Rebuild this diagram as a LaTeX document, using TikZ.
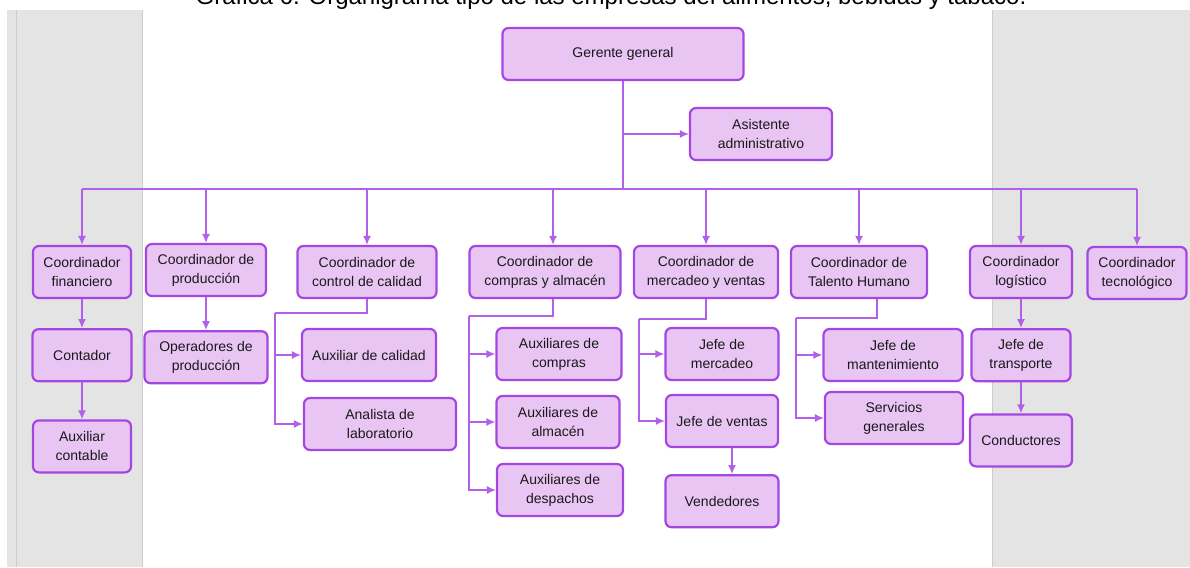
\documentclass[tikz,border=0pt]{standalone}
\usepackage{fontspec}
\setmainfont{Liberation Sans}
\usetikzlibrary{positioning,arrows.meta}

\definecolor{boxfill}{HTML}{E9C5F4}
\definecolor{boxline}{HTML}{A447E2}
\definecolor{linkline}{HTML}{B160EA}
\definecolor{bandgrey}{HTML}{E4E4E4}
\definecolor{bandedge}{HTML}{CDCDCD}

\begin{document}
\begin{tikzpicture}[
  x=1pt,
  y=-1pt,
  node distance=30pt,
  box/.style={
    rectangle,
    rounded corners=6pt,
    draw=boxline,
    line width=2.2pt,
    fill=boxfill,
    text=black!90,
    minimum height=52pt,
    inner sep=2pt,
    align=center,
    font=\fontsize{14}{19}\selectfont
  },
  link/.style={
    draw=linkline,
    line width=1.4pt
  },
  arrow/.style={
    link,
    -{Latex[length=9pt,width=8pt]}
  }
]
\useasboundingbox (0,0) rectangle (1190,567);

% grey side bands
\fill[bandgrey] (7,10) rectangle (142,567);
\draw[bandedge] (16,10) -- (16,567);
\draw[bandedge] (142,10) -- (142,567);
\fill[bandgrey] (992,10) rectangle (1190,567);
\draw[bandedge] (992,10) -- (992,567);

\node[anchor=base, font=\fontsize{24}{24}\selectfont] (titulo) at (611,5)
  {Gráfica 6. Organigrama tipo de las empresas del alimentos, bebidas y tabaco.};

% top
\node[box, minimum width=241pt] (gerente) at (623,54) {Gerente general};
\node[box, minimum width=142pt] (asistente) at (761,134) {Asistente\\administrativo};

% coordinators
\node[box, minimum width=98pt] (cfin) at (82,272) {Coordinador\\financiero};
\node[box, minimum width=120pt] (cprod) at (206,270) {Coordinador de\\producción};
\node[box, minimum width=139pt] (ccal) at (367,272) {Coordinador de\\control de calidad};
\node[box, minimum width=151pt] (ccomp) at (545,272) {Coordinador de\\compras y almacén};
\node[box, minimum width=144pt] (cmerc) at (706,272) {Coordinador de\\mercadeo y ventas};
\node[box, minimum width=136pt] (cth) at (859,272) {Coordinador de\\Talento Humano};
\node[box, minimum width=102pt] (clog) at (1021,272) {Coordinador\\logístico};
\node[box, minimum width=99pt] (ctec) at (1137,273) {Coordinador\\tecnológico};

% staff
\node[box, minimum width=99pt, below=29pt of cfin] (contador) {Contador};
\node[box, minimum width=98pt, below=37pt of contador] (auxcont) {Auxiliar\\contable};
\node[box, minimum width=123pt, below=33pt of cprod] (operadores) {Operadores de\\producción};
\node[box, minimum width=134pt] (auxcal) at (369,355) {Auxiliar de calidad};
\node[box, minimum width=152pt] (analista) at (380,424) {Analista de\\laboratorio};
\node[box, minimum width=125pt] (auxcomp) at (559,354) {Auxiliares de\\compras};
\node[box, minimum width=123pt] (auxalm) at (558,422) {Auxiliares de\\almacén};
\node[box, minimum width=126pt] (auxdesp) at (560,490) {Auxiliares de\\despachos};
\node[box, minimum width=113pt] (jmerc) at (722,354) {Jefe de\\mercadeo};
\node[box, minimum width=112pt] (jventas) at (722,421) {Jefe de ventas};
\node[box, minimum width=113pt, below=26pt of jventas] (vend) {Vendedores};
\node[box, minimum width=139pt] (jmant) at (893,355) {Jefe de\\mantenimiento};
\node[box, minimum width=138pt] (servgen) at (894,418) {Servicios\\generales};
\node[box, minimum width=99pt, below=29pt of clog] (jtrans) {Jefe de\\transporte};
\node[box, minimum width=102pt, below=31pt of jtrans] (conduct) {Conductores};

% connectors
\coordinate (bus) at (623,189);
\draw[link] (gerente) -- (bus);
\draw[arrow] (gerente |- asistente) -- (asistente);
\draw[link] (cfin |- bus) -- (ctec |- bus);
\foreach \c/\dx in {cfin/0,cprod/0,ccal/0,ccomp/8,cmerc/0,cth/0,clog/0,ctec/0}
  \draw[arrow] ([xshift=\dx pt]\c.north |- bus) -- ([xshift=\dx pt]\c.north);

\draw[arrow] (cfin) -- (contador);
\draw[arrow] (contador) -- (auxcont);
\draw[arrow] (cprod) -- (operadores);

\coordinate (calrail) at (275,313);
\draw[link] (ccal) |- (calrail);
\draw[arrow] (calrail) |- (analista);
\draw[arrow] (calrail |- auxcal) -- (auxcal);

\coordinate (comprail) at (469,316);
\draw[link] ([xshift=8pt]ccomp.south) |- (comprail);
\draw[arrow] (comprail) |- (auxdesp);
\draw[arrow] (comprail |- auxcomp) -- (auxcomp);
\draw[arrow] (comprail |- auxalm) -- (auxalm);

\coordinate (mercrail) at (639,319);
\draw[link] (cmerc) |- (mercrail);
\draw[arrow] (mercrail) |- (jventas);
\draw[arrow] (mercrail |- jmerc) -- (jmerc);
\draw[arrow] ([xshift=10pt]jventas.south) -- ([xshift=10pt]vend.north);

\coordinate (threail) at (796,318);
\draw[link] ([xshift=18pt]cth.south) |- (threail);
\draw[arrow] (threail) |- (servgen);
\draw[arrow] (threail |- jmant) -- (jmant);

\draw[arrow] (clog) -- (jtrans);
\draw[arrow] (jtrans) -- (conduct);

\end{tikzpicture}
\end{document}
